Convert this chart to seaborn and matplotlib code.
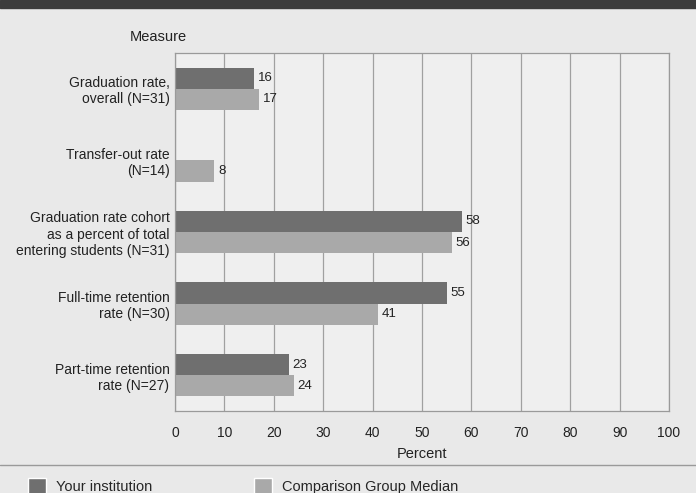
import numpy as np
import pandas as pd
import matplotlib.pyplot as plt
import seaborn as sns
from matplotlib.patches import Rectangle, Patch
from matplotlib.lines import Line2D

measures = [
    "Graduation rate,\noverall (N=31)",
    "Transfer-out rate\n(N=14)",
    "Graduation rate cohort\nas a percent of total\nentering students (N=31)",
    "Full-time retention\nrate (N=30)",
    "Part-time retention\nrate (N=27)",
]
your_institution = [16, np.nan, 58, 55, 23]
comparison_median = [17, 8, 56, 41, 24]
series_names = ["Your institution", "Comparison Group Median"]
x_ticks = [0, 10, 20, 30, 40, 50, 60, 70, 80, 90, 100]

df = pd.DataFrame({
    "Measure": measures * 2,
    "Percent": your_institution + comparison_median,
    "Series": [series_names[0]] * len(measures) + [series_names[1]] * len(measures),
})

sns.set_theme(style="white")
plt.rcParams['font.family'] = ['Liberation Sans', 'DejaVu Sans']

dark = "#6f6f6f"
light = "#a9a9a9"
bg = "#e9e9e9"

fig = plt.figure(figsize=(6.96, 4.93), dpi=100, facecolor=bg)
ax = fig.add_axes([0.2514, 0.1663, 0.7098, 0.7262])
ax.set_facecolor("#efefef")

sns.barplot(data=df, y="Measure", x="Percent", hue="Series", order=measures,
            hue_order=series_names, palette=[dark, light], width=0.59,
            saturation=1, orient="h", legend=False, linewidth=0, ax=ax)

# value labels
for cont in ax.containers:
    labels = ["" if np.isnan(v) else f"{v:.0f}" for v in cont.datavalues]
    ax.bar_label(cont, labels=labels, padding=3, fontsize=9.5, color="#222222")

ax.set_xlim(0, 100)
ax.set_xticks(x_ticks)
ax.xaxis.grid(True, color="#a0a0a0", linewidth=0.9)
ax.set_axisbelow(True)
for s in ax.spines.values():
    s.set_color("#9a9a9a")
    s.set_linewidth(0.9)
ax.tick_params(axis="both", length=0, labelsize=10, colors="#222222")
ax.tick_params(axis="x", pad=11)
ax.tick_params(axis="y", pad=4)
ax.set_xlabel("Percent", fontsize=10.5, color="#222222", labelpad=5)
ax.set_ylabel("")
for lab in ax.get_yticklabels():
    lab.set_ha("right")
    lab.set_multialignment("right")

# "Measure" header
fig.text(0.187, 0.925, "Measure", fontsize=10.5, color="#222222", ha="left", va="center")

# top dark band and separator line
fig.patches.append(Rectangle((0, 0.984), 1, 0.016, transform=fig.transFigure,
                             color="#3c3c3c", zorder=0))
fig.lines.append(Line2D([0, 1], [0.057, 0.057], transform=fig.transFigure,
                        color="#9a9a9a", linewidth=1))

# legend along the bottom
handles = [Patch(facecolor=dark), Patch(facecolor=light)]
fig.legend(handles, series_names, loc="lower left", bbox_to_anchor=(0.022, -0.03),
           ncol=2, frameon=False, fontsize=10.5, handlelength=1.2, handleheight=1.4,
           columnspacing=7.0, handletextpad=0.7)

fig.savefig("out.png", dpi=100, facecolor=bg)
